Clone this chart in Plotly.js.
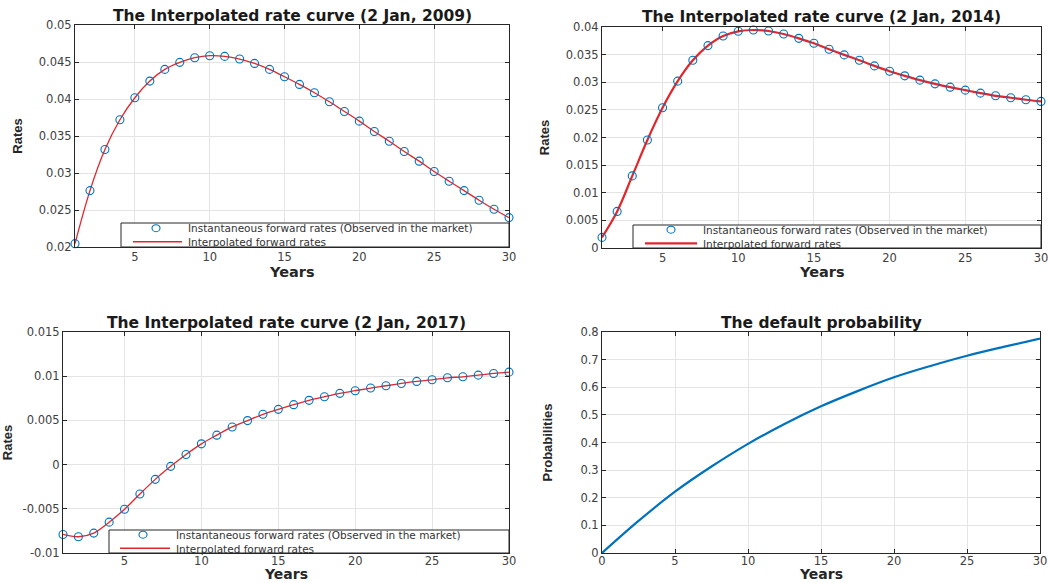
<!DOCTYPE html>
<html>
<head>
<meta charset="utf-8">
<script src="https://cdn.plot.ly/plotly-3.0.1.min.js"></script>
<style>html,body{margin:0;padding:0;background:#fff;}#chart{width:1049px;height:583px;}</style>
</head>
<body>
<div id="chart"></div>
<script>
// ---------------- data ----------------
const years = [1,2,3,4,5,6,7,8,9,10,11,12,13,14,15,16,17,18,19,20,21,22,23,24,25,26,27,28,29,30];

const rates2009 = [0.02045,0.02762,0.03317,0.03719,0.04017,0.04242,0.04400,0.04495,0.04558,0.04585,
                   0.04576,0.04540,0.04481,0.04400,0.04301,0.04197,0.04084,0.03962,0.03832,0.03701,
                   0.03561,0.03430,0.03290,0.03160,0.03020,0.02889,0.02762,0.02632,0.02510,0.02397];

const rates2014 = [0.00192,0.00662,0.01305,0.01955,0.02538,0.03020,0.03398,0.03663,0.03838,0.03922,
                   0.03946,0.03928,0.03874,0.03795,0.03705,0.03597,0.03495,0.03398,0.03296,0.03200,
                   0.03116,0.03038,0.02971,0.02911,0.02857,0.02803,0.02755,0.02719,0.02683,0.02653];

const rates2017 = [-0.00790,-0.00816,-0.00775,-0.00651,-0.00505,-0.00332,-0.00167,-0.00020,0.00115,0.00235,
                   0.00333,0.00426,0.00498,0.00569,0.00625,0.00678,0.00727,0.00768,0.00806,0.00836,
                   0.00866,0.00892,0.00918,0.00941,0.00959,0.00982,0.00993,0.01012,0.01031,0.01046];

const probYears  = [0,2.5,5,7.5,10,12.5,15,17.5,20,22.5,25,27.5,30];
const probValues = [0,0.116,0.222,0.313,0.395,0.467,0.531,0.586,0.636,0.677,0.714,0.746,0.776];

const xTicksRates = [5,10,15,20,25,30];
const xTicksProb  = [0,5,10,15,20,25,30];
const yTicks2017  = [-0.01,-0.005,0,0.005,0.01,0.015];
const yLabels2017 = ["-0.01","-0.005","0","0.005","0.01","0.015"];

const titles = ["The Interpolated rate curve (2 Jan, 2009)",
                "The Interpolated rate curve (2 Jan, 2014)",
                "The Interpolated rate curve (2 Jan, 2017)",
                "The default probability"];
const xTitle = "Years";
const yTitles = ["Rates", "Rates", "Rates", "Probabilities"];
const legendNames = ["Instantaneous forward rates (Observed in the market)", "Interpolated forward rates"];

// ---------------- layout helpers ----------------
const W = 1049, H = 583;
const boxes = [
  {l:75,  r:509,  t:25,  b:247},
  {l:602, r:1041, t:27,  b:248},
  {l:63,  r:509,  t:332, b:553},
  {l:602, r:1040, t:332, b:553}
];
const dom = bx => ({x:[bx.l/W, bx.r/W], y:[1-bx.b/H, 1-bx.t/H]});

const BLUE = '#0072BD', RED = 'rgb(226,38,44)';
const SANS = 'DejaVu Sans, Liberation Sans, sans-serif';
const TICKFONT = {family:SANS, size:11.5, color:'#404040'};
const YTITLEFONT = {family:'Liberation Sans Narrow, Liberation Sans, sans-serif', size:13, color:'#262626', weight:'bold'};
const yStandoff = [13, 13, 13, 24];

function xaxisDef(i, range, tickvals) {
  const d = dom(boxes[i]);
  return {
    domain: d.x, range: range, anchor: 'y' + (i ? i+1 : ''),
    tickmode: 'array', tickvals: tickvals,
    ticks: 'inside', ticklen: 4, tickcolor: '#262626',
    showline: true, linecolor: '#262626', linewidth: 1, mirror: 'allticks',
    showgrid: true, gridcolor: '#e4e4e4', gridwidth: 1, zeroline: false,
    tickfont: TICKFONT, ticklabelstandoff: i >= 2 ? -3 : -1,
    automargin: false, fixedrange: true
  };
}
function yaxisDef(i, range, dtick, tickvals, ticktext) {
  const d = dom(boxes[i]);
  const a = {
    domain: d.y, range: range, anchor: 'x' + (i ? i+1 : ''),
    ticks: 'inside', ticklen: 4, tickcolor: '#262626',
    showline: true, linecolor: '#262626', linewidth: 1, mirror: 'allticks',
    showgrid: true, gridcolor: '#e4e4e4', gridwidth: 1, zeroline: false,
    tickfont: TICKFONT,
    title: {text: '<b>' + yTitles[i] + '</b>', font: YTITLEFONT, standoff: yStandoff[i]},
    automargin: false, fixedrange: true
  };
  if (tickvals) { a.tickmode = 'array'; a.tickvals = tickvals; a.ticktext = ticktext; }
  else { a.tick0 = range[0]; a.dtick = dtick; }
  return a;
}

// ---------------- traces ----------------
const rateSets = [rates2009, rates2014, rates2017];
const lineWidths = [1.3, 2.2, 1.3];
const traces = [];
rateSets.forEach((vals, i) => {
  const xa = 'x' + (i ? i+1 : ''), ya = 'y' + (i ? i+1 : '');
  traces.push({
    x: years, y: vals, xaxis: xa, yaxis: ya, type: 'scatter', mode: 'lines',
    line: {color: RED, width: lineWidths[i], shape: 'spline', smoothing: 1},
    name: legendNames[1], showlegend: false, hoverinfo: 'x+y'
  });
  traces.push({
    x: years, y: vals, xaxis: xa, yaxis: ya, type: 'scatter', mode: 'markers',
    marker: {symbol: 'circle-open', size: 8, color: BLUE, line: {width: 1.1, color: BLUE}},
    name: legendNames[0], showlegend: false, hoverinfo: 'x+y', cliponaxis: false
  });
});
traces.push({
  x: probYears, y: probValues, xaxis: 'x4', yaxis: 'y4', type: 'scatter', mode: 'lines',
  line: {color: BLUE, width: 2.2, shape: 'spline', smoothing: 1},
  showlegend: false, hoverinfo: 'x+y'
});

// ---------------- titles & legends ----------------
const annotations = [];
const shapes = [];
const titleY = [16, 17, 323, 323];
boxes.forEach((bx, i) => {
  annotations.push({
    text: '<b>' + titles[i] + '</b>', xref: 'paper', yref: 'paper',
    x: ((bx.l + bx.r) / 2) / W, y: 1 - titleY[i] / H, xanchor: 'center', yanchor: 'middle',
    showarrow: false, font: {family: SANS, size: 15.5, color: '#1a1a1a'}
  });
  // x-axis title ("Years")
  const top = i < 2;
  annotations.push({
    text: '<b>' + xTitle + '</b>', xref: 'paper', yref: 'paper',
    x: ((bx.l + bx.r) / 2) / W, y: top ? 1 - 272 / H : 0,
    xanchor: 'center', yanchor: top ? 'middle' : 'bottom',
    showarrow: false, borderpad: 0,
    font: {family: SANS, size: top ? 14.5 : 14, color: '#262626'}
  });
});

// legend boxes (pixel specs converted to axis-domain fractions)
const legends = [
  {box: 0, left: 121, top: 223, cx: 156, l0: 133, l1: 182, tx: 187, lw: 1.5},
  {box: 1, left: 633, top: 225, cx: 671, l0: 645, l1: 697, tx: 702, lw: 2.2},
  {box: 2, left: 109, top: 530, cx: 143, l0: 120, l1: 170, tx: 175, lw: 1.5}
];
const LEGFS = 10.5;
legends.forEach(lg => {
  const bx = boxes[lg.box];
  const sfx = lg.box ? lg.box + 1 : '';
  const xr = 'x' + sfx + ' domain', yr = 'y' + sfx + ' domain';
  const fx = p => (p - bx.l) / (bx.r - bx.l);
  const fy = p => (bx.b - p) / (bx.b - bx.t);
  const mid = (lg.top + bx.b) / 2;
  const row1 = mid - 0.65 * LEGFS, row2 = mid + 0.65 * LEGFS;
  shapes.push({type: 'rect', xref: xr, yref: yr, x0: fx(lg.left), x1: 1, y0: 0, y1: fy(lg.top),
               fillcolor: '#ffffff', line: {color: '#262626', width: 1}, layer: 'above'});
  shapes.push({type: 'circle', xref: xr, yref: yr, xsizemode: 'pixel', ysizemode: 'pixel',
               xanchor: fx(lg.cx), yanchor: fy(row1), x0: -4, x1: 4, y0: -3.5, y1: 3.5,
               line: {color: BLUE, width: 1.1}, layer: 'above'});
  shapes.push({type: 'line', xref: xr, yref: yr, x0: fx(lg.l0), x1: fx(lg.l1), y0: fy(row2), y1: fy(row2),
               line: {color: RED, width: lg.lw}, layer: 'above'});
  annotations.push({
    text: legendNames[0] + '<br>' + legendNames[1], xref: xr, yref: yr, x: fx(lg.tx), y: fy(mid),
    xanchor: 'left', yanchor: 'middle', align: 'left', showarrow: false, borderpad: 0,
    font: {family: SANS, size: LEGFS, color: '#333333'}
  });
});

const layout = {
  width: W, height: H, margin: {l:0, r:0, t:0, b:0},
  paper_bgcolor: '#ffffff', plot_bgcolor: '#ffffff',
  showlegend: false,
  xaxis:  xaxisDef(0, [1, 30], xTicksRates),
  yaxis:  yaxisDef(0, [0.02, 0.05], 0.005),
  xaxis2: xaxisDef(1, [1, 30], xTicksRates),
  yaxis2: yaxisDef(1, [0, 0.04], 0.005),
  xaxis3: xaxisDef(2, [1, 30], xTicksRates),
  yaxis3: yaxisDef(2, [-0.01, 0.015], 0.005, yTicks2017, yLabels2017),
  xaxis4: xaxisDef(3, [0, 30], xTicksProb),
  yaxis4: yaxisDef(3, [0, 0.8], 0.1),
  annotations: annotations,
  shapes: shapes
};

Plotly.newPlot('chart', traces, layout, {staticPlot: true, displayModeBar: false});
</script>
</body>
</html>
